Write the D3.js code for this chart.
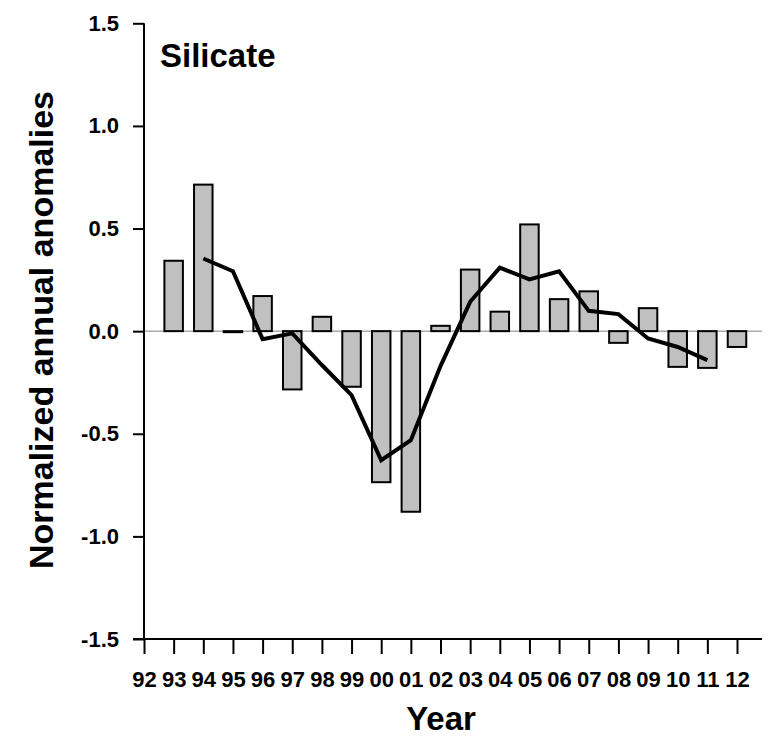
<!DOCTYPE html>
<html><head><meta charset="utf-8">
<script src="https://cdn.jsdelivr.net/npm/d3@7/dist/d3.min.js"></script>
<style>html,body{margin:0;padding:0;background:#fff;}svg{display:block;}</style>
</head><body>
<script>
const barYears = [1993,1994,1995,1996,1997,1998,1999,2000,2001,2002,2003,2004,2005,2006,2007,2008,2009,2010,2011,2012];
const barValues = [0.343,0.714,-0.005,0.171,-0.284,0.07,-0.271,-0.736,-0.88,0.026,0.30,0.095,0.52,0.156,0.194,-0.057,0.112,-0.174,-0.179,-0.077];
const lineYears = [1994,1995,1996,1997,1998,1999,2000,2001,2002,2003,2004,2005,2006,2007,2008,2009,2010,2011];
const lineValues = [0.354,0.292,-0.039,-0.011,-0.165,-0.312,-0.629,-0.531,-0.17,0.143,0.309,0.252,0.292,0.099,0.083,-0.036,-0.077,-0.141];
const xTickYears = [1992,1993,1994,1995,1996,1997,1998,1999,2000,2001,2002,2003,2004,2005,2006,2007,2008,2009,2010,2011,2012];
const yTicks = [-1.5,-1.0,-0.5,0.0,0.5,1.0,1.5];

const W = 769, H = 742;
const font = "'Liberation Sans', Arial, Helvetica, sans-serif";
const svg = d3.select("body").append("svg").attr("width", W).attr("height", H);

const x = d3.scaleLinear().domain([1992, 2012]).range([144, 737]);
const y = d3.scaleLinear().domain([-1.5, 1.5]).range([639, 23.3]);
const barW = 18.5;

// zero line
svg.append("line").attr("x1", x(1992)).attr("x2", 762).attr("y1", y(0)).attr("y2", y(0))
  .attr("stroke", "#808080").attr("stroke-width", 1);

// bars
svg.append("g").selectAll("rect").data(barYears.map((yr, i) => ({yr, v: barValues[i]}))).join("rect")
  .attr("x", d => x(d.yr) - barW / 2)
  .attr("width", barW)
  .attr("y", d => Math.min(y(d.v), y(0)))
  .attr("height", d => Math.max(Math.abs(y(d.v) - y(0)), 0.5))
  .attr("fill", "#c0c0c0").attr("stroke", "#000").attr("stroke-width", 2);

// line
svg.append("path").datum(lineYears.map((yr, i) => [yr, lineValues[i]]))
  .attr("d", d3.line().x(d => x(d[0])).y(d => y(d[1])))
  .attr("fill", "none").attr("stroke", "#000").attr("stroke-width", 4).attr("stroke-linejoin", "miter");

// y axis
const yAxis = d3.axisLeft(y).tickValues(yTicks).tickSize(11).tickPadding(14)
  .tickFormat(d => d.toFixed(1));
const gy = svg.append("g").attr("transform", `translate(${x(1992)},0)`).call(yAxis);
gy.select(".domain").attr("stroke-width", 2).attr("d", `M0,${y(-1.5)}V${y(1.5)}`);
gy.selectAll(".tick line").attr("stroke-width", 2);
gy.selectAll(".tick text").attr("font-family", font).attr("font-weight", "bold").attr("font-size", 22).attr("fill", "#000");

// x axis
const xAxis = d3.axisBottom(x).tickValues(xTickYears).tickSize(15).tickPadding(17)
  .tickFormat(d => String(d % 100).padStart(2, "0"));
const gx = svg.append("g").attr("transform", `translate(0,${y(-1.5)})`).call(xAxis);
gx.select(".domain").attr("stroke-width", 2).attr("d", `M${x(1992) - 11},0H762`);
gx.selectAll(".tick line").attr("stroke-width", 2);
gx.selectAll(".tick text").attr("font-family", font).attr("font-weight", "bold").attr("font-size", 22).attr("fill", "#000");

// titles
svg.append("text").attr("x", 160).attr("y", 67).text("Silicate")
  .attr("font-family", font).attr("font-weight", "bold").attr("font-size", 33);
svg.append("text").attr("x", 441).attr("y", 730).attr("text-anchor", "middle").text("Year")
  .attr("font-family", font).attr("font-weight", "bold").attr("font-size", 33);
svg.append("text").attr("transform", "translate(53,330) rotate(-90)").attr("text-anchor", "middle")
  .text("Normalized annual anomalies")
  .attr("font-family", font).attr("font-weight", "bold").attr("font-size", 34);
</script>
</body></html>
